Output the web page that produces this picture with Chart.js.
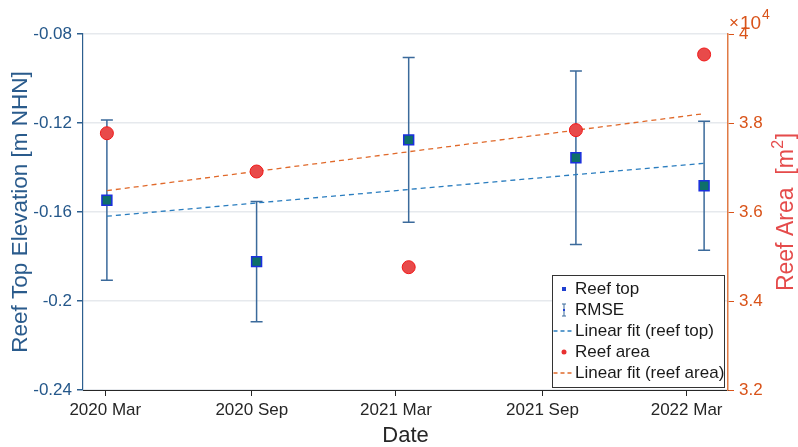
<!DOCTYPE html>
<html>
<head>
<meta charset="utf-8">
<script src="https://cdn.jsdelivr.net/npm/chart.js@4.4.0/dist/chart.umd.min.js"></script>
<style>
body { margin: 0; background: #fff; }
#wrap { width: 798px; height: 447px; }
</style>
</head>
<body>
<div id="wrap"><canvas id="reefChart" width="798" height="447"></canvas></div>
<script>
// survey data
var surveyDates = ['2020-03-03', '2020-09-07', '2021-03-17', '2021-10-13', '2022-03-23'];
var reefTop = [-0.1547, -0.1823, -0.1276, -0.1356, -0.1482];
var reefTopRmse = [0.036, 0.027, 0.037, 0.039, 0.029];
var reefArea = [37770, 36910, 34760, 37840, 39540];

// linear fits (end points)
var fitDates = ['2020-03-03', '2022-03-23'];
var fitTop = [-0.1619, -0.1381];
var fitArea = [36480, 38210];

// axes
var tickDates = ['2020-03-01', '2020-09-01', '2021-03-01', '2021-09-01', '2022-03-01'];
var tickLabels = ['2020 Mar', '2020 Sep', '2021 Mar', '2021 Sep', '2022 Mar'];
var xRange = ['2020-02-02', '2022-04-22'];
var elevTicks = [-0.24, -0.2, -0.16, -0.12, -0.08];
var areaTicks = [32000, 34000, 36000, 38000, 40000];

var BLUE_TXT = '#24578a';
var ORANGE = '#d95319';
var FONT = '"Liberation Sans", Arial, sans-serif';

function day(s) {
    return (Date.parse(s) - Date.parse('2020-01-01')) / 86400000;
}
function pts(dates, vals) {
    return dates.map(function (d, i) { return {x: day(d), y: vals[i]}; });
}

var extras = {
    id: 'extras',
    beforeDatasetsDraw: function (chart) {
        var ctx = chart.ctx, xs = chart.scales.x, ys = chart.scales.yTop;
        ctx.save();
        ctx.strokeStyle = '#3b6a9b';
        ctx.lineWidth = 1.5;
        surveyDates.forEach(function (d, i) {
            var px = xs.getPixelForValue(day(d));
            var top = ys.getPixelForValue(reefTop[i] + reefTopRmse[i]);
            var bot = ys.getPixelForValue(reefTop[i] - reefTopRmse[i]);
            ctx.beginPath();
            ctx.moveTo(px, top); ctx.lineTo(px, bot);
            ctx.moveTo(px - 6, top); ctx.lineTo(px + 6, top);
            ctx.moveTo(px - 6, bot); ctx.lineTo(px + 6, bot);
            ctx.stroke();
        });
        ctx.restore();
    },
    afterDraw: function (chart) {
        var ctx = chart.ctx, a = chart.chartArea;
        var midY = (a.top + a.bottom) / 2;
        ctx.save();
        ctx.textBaseline = 'middle';
        ctx.textAlign = 'center';

        // axis titles
        ctx.fillStyle = '#2a5b8c';
        ctx.font = '22.5px ' + FONT;
        ctx.save();
        ctx.translate(21, midY);
        ctx.rotate(-Math.PI / 2);
        ctx.fillText('Reef Top Elevation [m NHN]', 0, 0);
        ctx.restore();

        // right title with superscript
        ctx.fillStyle = '#e54b4b';
        ctx.save();
        ctx.translate(786, midY);
        ctx.rotate(-Math.PI / 2);
        ctx.textAlign = 'left';
        ctx.font = '23px ' + FONT;
        var t1 = 'Reef Area  [m', t3 = ']';
        var w1 = ctx.measureText(t1).width, w3 = ctx.measureText(t3).width;
        ctx.font = '16px ' + FONT;
        var w2 = ctx.measureText('2').width + 1;
        var x0 = -(w1 + w2 + w3) / 2;
        ctx.font = '23px ' + FONT;
        ctx.fillText(t1, x0, 1);
        ctx.fillText(t3, x0 + w1 + w2, 1);
        ctx.font = '16px ' + FONT;
        ctx.fillText('2', x0 + w1 + 0.5, -7);
        ctx.restore();

        ctx.fillStyle = '#262626';
        ctx.textAlign = 'center';
        ctx.font = '22px ' + FONT;
        ctx.fillText('Date', (a.left + a.right) / 2, 436);

        // exponent label on right axis
        ctx.fillStyle = ORANGE;
        ctx.textAlign = 'left';
        ctx.textBaseline = 'alphabetic';
        ctx.font = '17px ' + FONT;
        ctx.fillText('×', a.right + 1, 28);
        ctx.font = '19px ' + FONT;
        ctx.fillText('10', a.right + 12, 29);
        ctx.font = '14px ' + FONT;
        ctx.fillText('4', a.right + 34, 19);

        // legend
        var bx = 552.5, by = 275.5, bw = 172, bh = 112;
        ctx.fillStyle = '#fff';
        ctx.fillRect(bx, by, bw, bh);
        ctx.strokeStyle = '#333';
        ctx.lineWidth = 1;
        ctx.strokeRect(bx, by, bw, bh);
        var rows = [289, 310, 331, 352, 373];
        var names = ['Reef top', 'RMSE', 'Linear fit (reef top)', 'Reef area', 'Linear fit (reef area)'];
        var sx = 564;
        ctx.font = '17px ' + FONT;
        ctx.textBaseline = 'middle';
        names.forEach(function (n, i) {
            ctx.fillStyle = '#1a1a1a';
            ctx.fillText(n, 575, rows[i]);
        });
        ctx.fillStyle = '#1f3fd0';
        ctx.fillRect(sx - 2, rows[0] - 2, 4, 4);
        ctx.strokeStyle = '#3b6a9b';
        ctx.beginPath();
        ctx.moveTo(sx, rows[1] - 6); ctx.lineTo(sx, rows[1] + 6);
        ctx.moveTo(sx - 2, rows[1] - 6); ctx.lineTo(sx + 2, rows[1] - 6);
        ctx.moveTo(sx - 2, rows[1] + 6); ctx.lineTo(sx + 2, rows[1] + 6);
        ctx.stroke();
        ctx.fillStyle = '#1f3fd0';
        ctx.fillRect(sx - 1, rows[1] - 1, 2, 2);
        ctx.setLineDash([4, 3]);
        ctx.lineWidth = 1.3;
        ctx.strokeStyle = '#2a7dbf';
        ctx.beginPath(); ctx.moveTo(bx + 1, rows[2]); ctx.lineTo(bx + 20, rows[2]); ctx.stroke();
        ctx.strokeStyle = '#e0692a';
        ctx.beginPath(); ctx.moveTo(bx + 1, rows[4]); ctx.lineTo(bx + 20, rows[4]); ctx.stroke();
        ctx.setLineDash([]);
        ctx.fillStyle = '#e83030';
        ctx.beginPath(); ctx.arc(sx, rows[3], 2.5, 0, Math.PI * 2); ctx.fill();
        ctx.restore();
    }
};

var ctx = document.getElementById('reefChart').getContext('2d');
var reefChart = new Chart(ctx, {
    type: 'scatter',
    data: {
        datasets: [
            {
                label: 'Reef area', data: pts(surveyDates, reefArea), yAxisID: 'yArea',
                pointStyle: 'circle', pointRadius: 6.5,
                backgroundColor: '#e84a4a', borderColor: '#f01818', borderWidth: 1, order: 0
            },
            {
                label: 'Reef top', data: pts(surveyDates, reefTop), yAxisID: 'yTop',
                pointStyle: 'rect', pointRadius: 7,
                backgroundColor: '#0e6f6a', borderColor: '#1b2fe0', borderWidth: 1.5, order: 1
            },
            {
                label: 'Linear fit (reef top)', data: pts(fitDates, fitTop), yAxisID: 'yTop',
                showLine: true, pointRadius: 0, borderColor: '#2a7dbf', borderWidth: 1.3,
                borderDash: [5, 4], order: 2
            },
            {
                label: 'Linear fit (reef area)', data: pts(fitDates, fitArea), yAxisID: 'yArea',
                showLine: true, pointRadius: 0, borderColor: '#e0692a', borderWidth: 1.3,
                borderDash: [5, 4], order: 3
            }
        ]
    },
    options: {
        responsive: false,
        animation: false,
        events: [],
        layout: {padding: {top: 34, left: 0, right: 0, bottom: 0}},
        plugins: {legend: {display: false}, tooltip: {enabled: false}},
        scales: {
            x: {
                type: 'linear', position: 'bottom',
                min: day(xRange[0]), max: day(xRange[1]),
                afterBuildTicks: function (s) {
                    s.ticks = tickDates.map(function (d) { return {value: day(d)}; });
                },
                afterFit: function (s) { s.height = 57; },
                grid: {drawOnChartArea: false, drawTicks: true, tickLength: 6, tickColor: '#262626'},
                border: {color: '#262626', width: 1},
                ticks: {
                    color: '#262626', font: {size: 17, family: FONT}, padding: 4,
                    maxRotation: 0, autoSkip: false,
                    callback: function (v) {
                        var i = tickDates.map(day).indexOf(v);
                        return i >= 0 ? tickLabels[i] : '';
                    }
                }
            },
            yTop: {
                type: 'linear', position: 'left', min: -0.24, max: -0.08,
                afterBuildTicks: function (s) {
                    s.ticks = elevTicks.map(function (v) { return {value: v}; });
                },
                afterFit: function (s) { s.width = 83; },
                grid: {color: '#e6e9ed', lineWidth: 1.5, drawTicks: true, tickLength: 6, tickColor: '#2d5f8f'},
                border: {color: '#2d5f8f', width: 1.2},
                ticks: {
                    color: BLUE_TXT, font: {size: 17, family: FONT}, padding: 5,
                    callback: function (v) { return String(Math.round(v * 100) / 100); }
                }
            },
            yArea: {
                type: 'linear', position: 'right', min: 32000, max: 40000,
                afterBuildTicks: function (s) {
                    s.ticks = areaTicks.map(function (v) { return {value: v}; });
                },
                afterFit: function (s) { s.width = 70; },
                grid: {drawOnChartArea: false, drawTicks: true, tickLength: 6, tickColor: ORANGE},
                border: {color: '#e07a45', width: 1.5},
                ticks: {
                    color: ORANGE, font: {size: 17, family: FONT}, padding: 5,
                    callback: function (v) { return String(v / 10000); }
                }
            }
        }
    },
    plugins: [extras]
});
</script>
</body>
</html>
